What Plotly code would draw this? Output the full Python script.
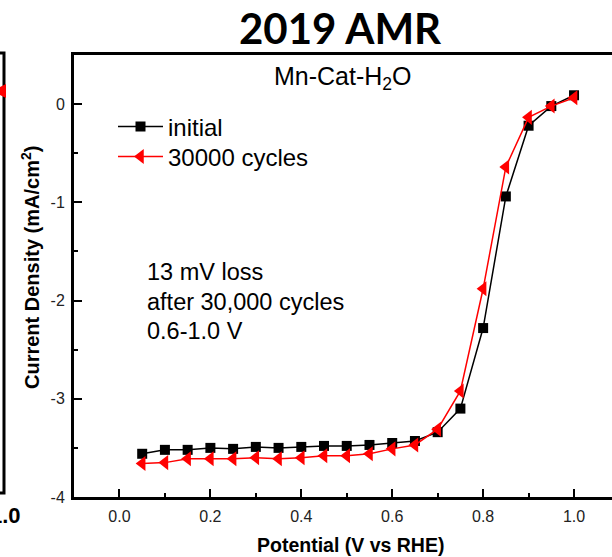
import plotly.graph_objects as go

potential = [0.05, 0.10, 0.15, 0.20, 0.25, 0.30, 0.35, 0.40, 0.45, 0.50,
             0.55, 0.60, 0.65, 0.70, 0.75, 0.80, 0.85, 0.90, 0.95, 1.00]
initial = [-3.56, -3.52, -3.52, -3.50, -3.51, -3.49, -3.50, -3.49, -3.48, -3.48,
           -3.47, -3.45, -3.43, -3.34, -3.10, -2.28, -0.94, -0.22, -0.02, 0.09]
cycles30000 = [-3.66, -3.65, -3.61, -3.61, -3.61, -3.60, -3.61, -3.60, -3.58, -3.58,
               -3.56, -3.51, -3.47, -3.31, -2.92, -1.88, -0.64, -0.135, -0.02, 0.065]
y_ticks = [-4, -3, -2, -1, 0]
y_ticktext = ["-4", "-3", "-2", "-1", "0"]
x_ticks = [0.0, 0.2, 0.4, 0.6, 0.8, 1.0]
x_ticktext = ["0.0", "0.2", "0.4", "0.6", "0.8", "1.0"]
note_lines = ["13 mV loss", "after 30,000 cycles", "0.6-1.0 V"]

FONT = "Liberation Sans, Arial, sans-serif"

fig = go.Figure()
fig.add_trace(go.Scatter(
    x=potential, y=initial, mode="lines+markers", name="initial",
    line=dict(color="black", width=1.5),
    marker=dict(symbol="square", size=10, color="black"),
    cliponaxis=False, legend="legend"))
fig.add_trace(go.Scatter(
    x=potential, y=cycles30000, mode="lines+markers", name="30000 cycles",
    line=dict(color="#ff0000", width=1.5),
    marker=dict(symbol="triangle-left", size=13, color="#ff0000"),
    cliponaxis=False, legend="legend2"))

axis_common = dict(
    showline=True, linecolor="black", linewidth=3,
    ticks="inside", ticklen=8, tickwidth=2, tickcolor="black",
    showgrid=False, zeroline=False,
    tickfont=dict(family=FONT, size=16, color="#222"),
)

fig.update_xaxes(range=[-0.1, 1.0835], tickvals=x_ticks, ticktext=x_ticktext,
                 mirror=True, ticklabelstandoff=3,
                 minor=dict(ticks="inside", ticklen=4, tickwidth=2, tickcolor="black",
                            dtick=0.1, tick0=0.1, showgrid=False),
                 **axis_common)
fig.update_yaxes(range=[-4, 0.5], tickvals=y_ticks, ticktext=y_ticktext,
                 ticklabelstandoff=3,
                 minor=dict(ticks="inside", ticklen=4, tickwidth=2, tickcolor="black",
                            tickvals=[-3.5, -2.5, -1.5, -0.5], showgrid=False),
                 **axis_common)

L, T, B = 74, 55, 497
W, H = 612, 557
pw, ph = W - L, B - T


def px(x):
    return (x - L) / pw


def py(y):
    return (B - y) / ph


annotations = [
    dict(text="<b>2019 AMR</b>", x=px(340), y=py(28), xanchor="center", yanchor="middle",
         font=dict(family="Lato, sans-serif", size=42, color="black")),
    dict(text="Mn-Cat-H<sub>2</sub>O", x=px(343), y=py(78), xanchor="center", yanchor="middle",
         font=dict(family=FONT, size=25, color="black")),
    dict(text="<b>Potential (V vs RHE)</b>", x=px(350), y=py(545), xanchor="center", yanchor="middle",
         font=dict(family=FONT, size=19.5, color="black")),
    dict(text="<b>Current Density (mA/cm<sup>2</sup>)</b>", x=px(30), y=py(268), textangle=-90,
         xanchor="center", yanchor="middle",
         font=dict(family=FONT, size=20, color="black")),
    dict(text="<b>1.0</b>", x=px(23), y=py(515), xanchor="right", yanchor="middle",
         font=dict(family=FONT, size=22, color="black")),
]
for line_text, ypix in zip(note_lines, [272, 301.5, 331]):
    annotations.append(dict(text=line_text, x=px(145), y=py(ypix), xanchor="left", yanchor="middle",
                            font=dict(family=FONT, size=23.5, color="black")))
for a in annotations:
    a.update(xref="paper", yref="paper", showarrow=False)

shapes = [
    dict(type="path", path="M %f,%f L %f,%f L %f,%f L %f,%f" % (px(-2), py(53), px(4), py(53), px(4), py(493), px(-2), py(493)),
         line=dict(color="black", width=3)),
    dict(type="path", path="M %f,%f L %f,%f L %f,%f Z" % (px(-8), py(91), px(6), py(84), px(6), py(98)),
         fillcolor="#ff0000", line=dict(color="#ff0000", width=0)),
]
for s in shapes:
    s.update(xref="paper", yref="paper")

legend_common = dict(xanchor="left", yanchor="middle",
                     font=dict(family=FONT, size=24, color="black"),
                     bgcolor="rgba(0,0,0,0)", itemwidth=45)

fig.update_layout(
    width=W, height=H,
    margin=dict(l=L, r=0, t=T, b=H - B),
    paper_bgcolor="white", plot_bgcolor="white",
    showlegend=True,
    legend=dict(x=px(113), y=py(127), **legend_common),
    legend2=dict(x=px(113), y=py(157), **legend_common),
    annotations=annotations, shapes=shapes,
)

fig.write_html("out.html")
